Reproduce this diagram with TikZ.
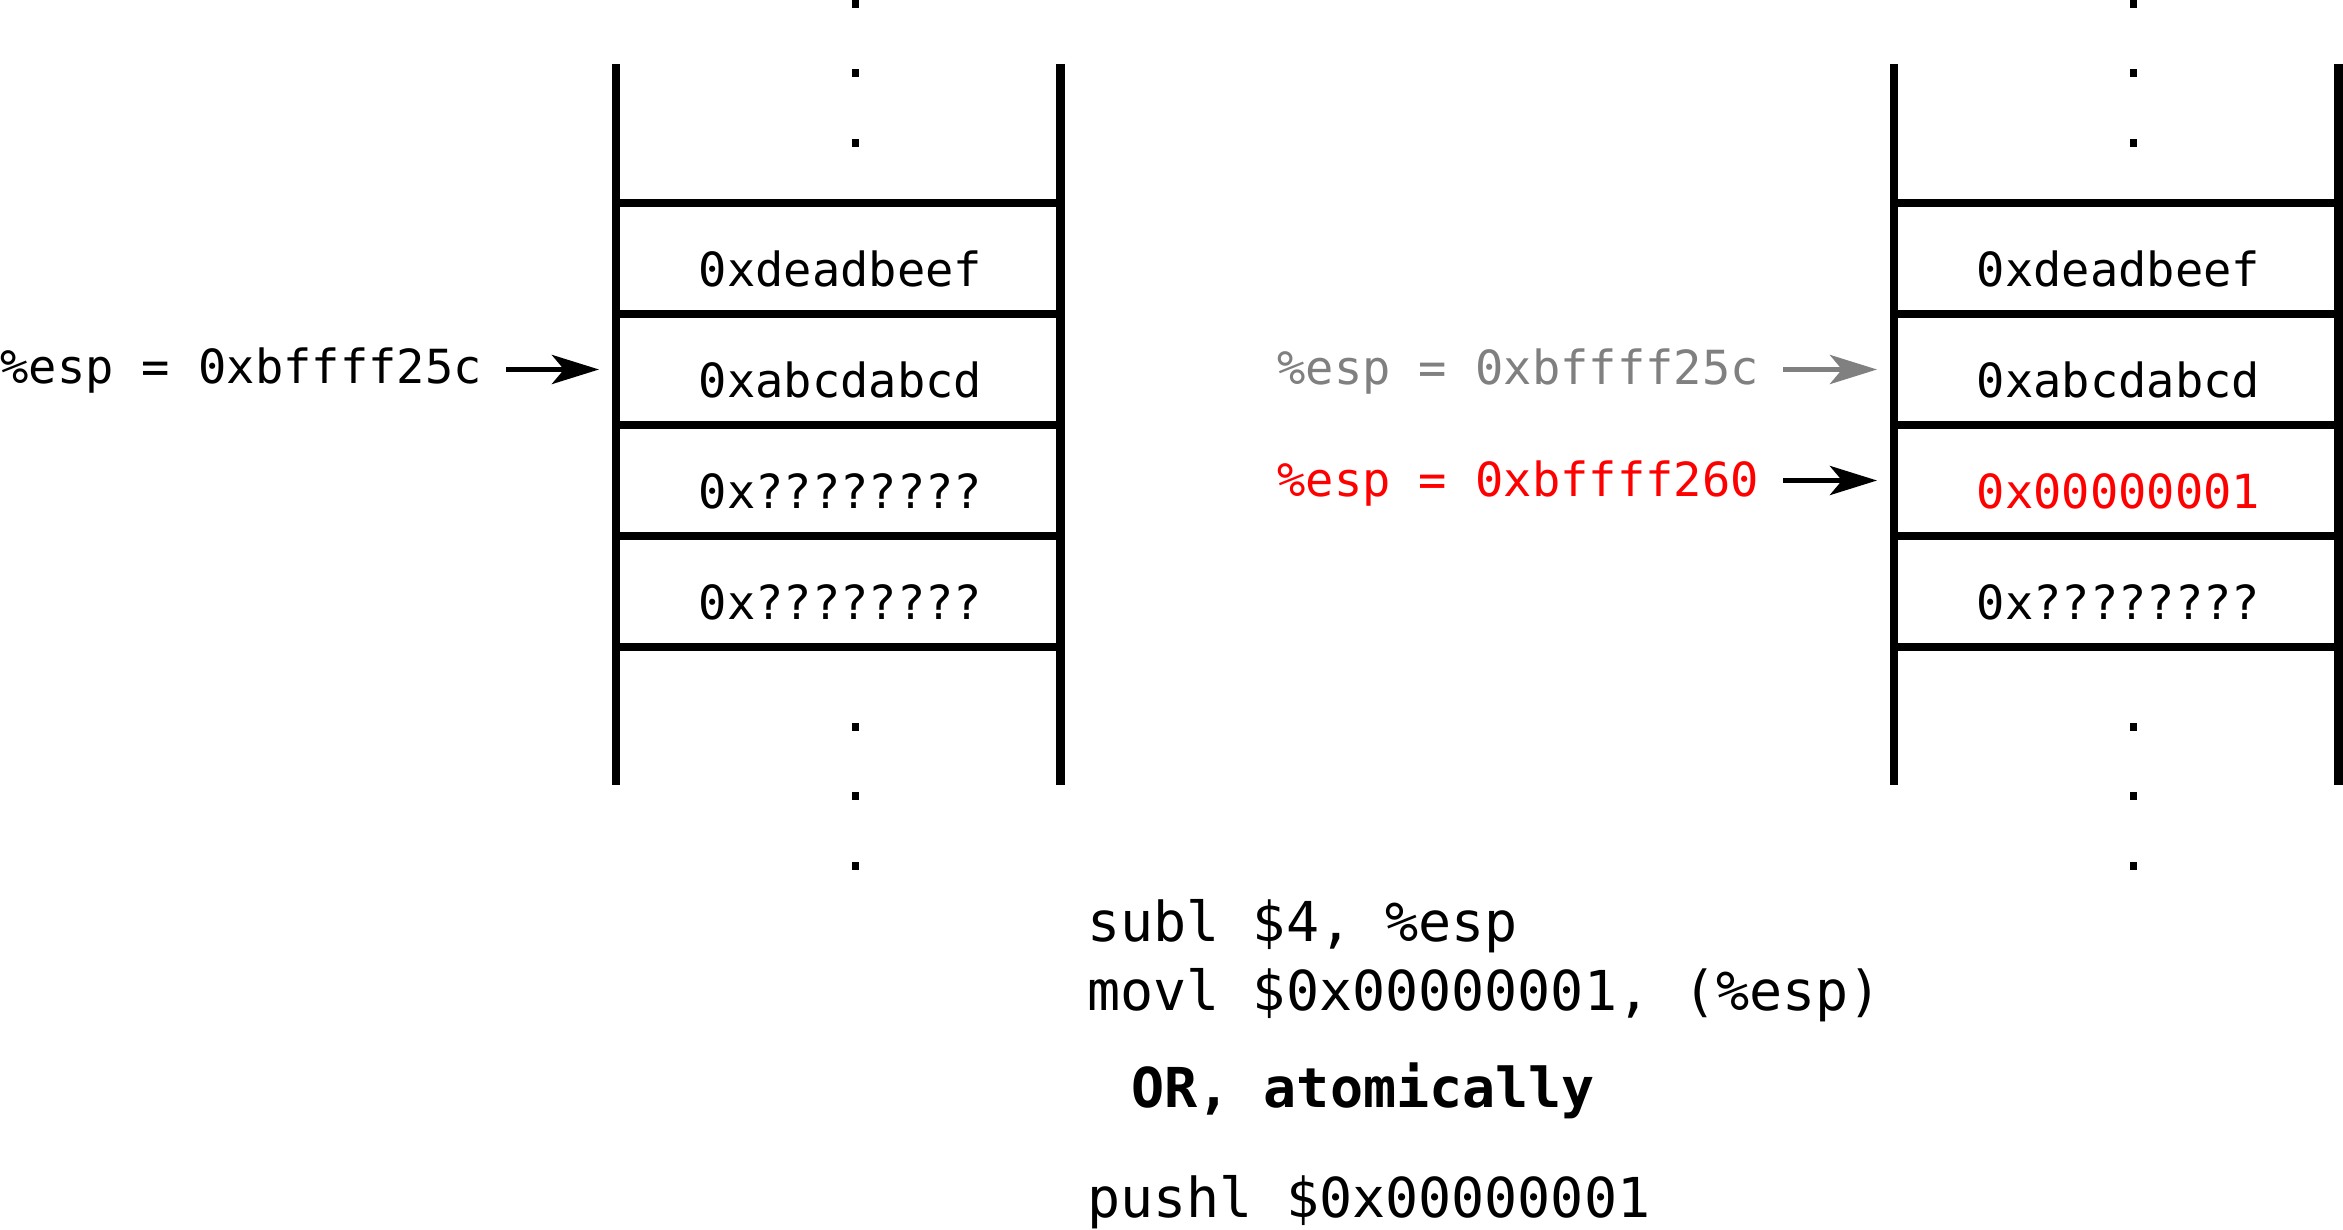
\documentclass[tikz,border=0pt]{standalone}
\usepackage{fontspec}
\newfontfamily\dvm{DejaVu Sans Mono}
\usetikzlibrary{arrows.meta}
\definecolor{espgray}{RGB}{128,128,128}
\definecolor{espred}{RGB}{255,0,0}
\begin{document}
\begin{tikzpicture}[x=0.5bp,y=-0.5bp,
  rail/.style={line width=4.2bp, black},
  shelf/.style={line width=3.8bp, black},
  celltext/.style={anchor=base, inner sep=0pt, font=\dvm\fontsize{23.6}{28}\selectfont},
  esplabel/.style={anchor=base west, inner sep=0pt, font=\dvm\fontsize{23.6}{28}\selectfont},
  codeline/.style={anchor=base west, inner sep=0pt, font=\dvm\fontsize{27.6}{33}\selectfont},
  ptr/.style={line width=2.8bp, shorten <=12bp, -{Stealth[length=23.5bp,width=14.5bp,inset=6bp]}},
  dotmark/.style={fill=black}
]
\useasboundingbox (0,0) rectangle (2343,1230);

% ---------- the two stacks ----------
\foreach \s/\x in {L/616, R/1894}{
  \foreach \y in {203,314,425,536,647}
    \draw[shelf] (\x,\y) -- (\x+444.5,\y);
  \draw[rail] (\x,64) -- (\x,785);
  \draw[rail] (\x+444.5,64) -- (\x+444.5,785);
  \foreach \y in {4,73.5,143.5,727,796,866}
    \fill[dotmark] (\x+235.5,\y-4) rectangle ++(7,8);
  \coordinate (tip\s2) at (\x-17,369.5);
  \coordinate (tip\s3) at (\x-17,480.5);
}

% ---------- cell contents ----------
\node[celltext] (L1) at (840.5,287) {0xdeadbeef};
\node[celltext] (L2) at (840.5,398) {0xabcdabcd};
\node[celltext] (L3) at (840.5,509) {0x????????};
\node[celltext] (L4) at (840.5,620) {0x????????};

\node[celltext] (R1) at (2118.5,287) {0xdeadbeef};
\node[celltext] (R2) at (2118.5,398) {0xabcdabcd};
\node[celltext, text=espred] (R3) at (2118.5,509) {0x00000001};
\node[celltext] (R4) at (2118.5,620) {0x????????};

% ---------- %esp labels and pointers ----------
\node[esplabel] (lblL) at (0,384) {\%esp = 0xbffff25c};
\draw[ptr] (lblL.east |- tipL2) -- (tipL2);

\node[esplabel, text=espgray] (lblRold) at (1277,385) {\%esp = 0xbffff25c};
\draw[ptr, draw=espgray, fill=espgray] (lblRold.east |- tipR2) -- (tipR2);

\node[esplabel, text=espred] (lblRnew) at (1277,497) {\%esp = 0xbffff260};
\draw[ptr] (lblRnew.east |- tipR3) -- (tipR3);

% ---------- code ----------
\node[codeline] (c1) at (1087,941) {subl \$4, \%esp};
\node[codeline] (c2) at (1087,1010) {movl \$0x00000001, (\%esp)};
\node[codeline] (c3) at (1131,1107) {\bfseries OR, atomically};
\node[codeline] (c4) at (1087,1217) {pushl \$0x00000001};
\end{tikzpicture}
\end{document}
